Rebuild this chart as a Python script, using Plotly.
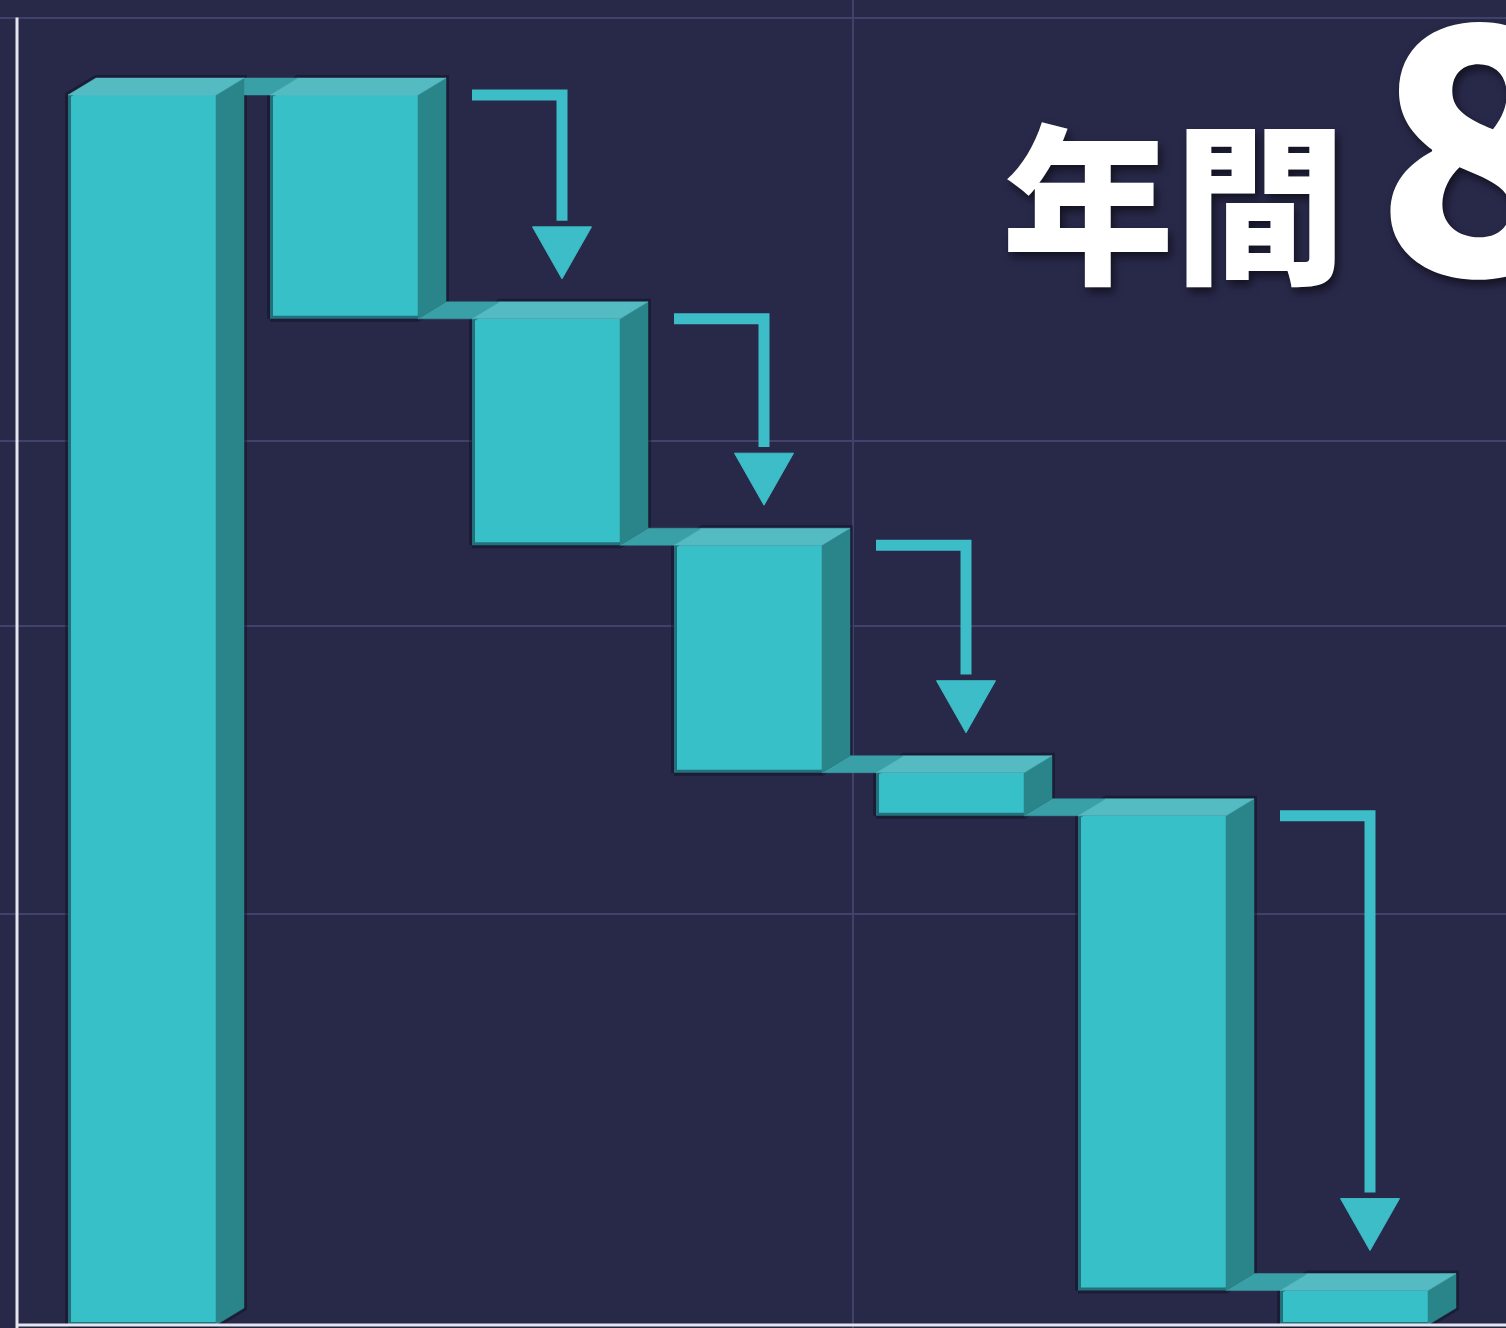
import plotly.graph_objects as go

# ---------------- data ----------------
categories = ["年間合計", "削減1", "削減2", "削減3", "削減4", "削減5", "残り"]
measures = ["absolute", "relative", "relative", "relative", "relative", "relative", "total"]
values = [100.0, -18.2, -18.4, -18.5, -3.5, -38.6, 0]
arrow_steps = [1, 2, 3, 5]          # steps whose drop is shown by an arrow in the next column
grid_levels = [33.4, 56.8, 71.9, 106.3]
grid_x = [3.52]
title_word = "年間"
title_number = "8"

# ---------------- style ----------------
W, H = 1506, 1328
BG = "#282849"
GRID = "#41416a"
FRONT = "#38c0c8"
SIDE = "#2a858b"
TOP = "#55bbc3"
CONN = "#3aa0a8"
ARROW = "#3cbdc7"
AXIS = "#e6e6ef"

X0_PX, X_STEP_PX = 142, 202          # pixel of category 0 centre, pixels per category
Y0_PX, Y_PX_PER_UNIT = 1325, 12.3    # pixel of value 0, pixels per value unit
x_range = [-X0_PX / X_STEP_PX, (W - X0_PX) / X_STEP_PX]
y_range = [(Y0_PX - H) / Y_PX_PER_UNIT, Y0_PX / Y_PX_PER_UNIT]

BAR_W = 148 / X_STEP_PX
DX = 28 / X_STEP_PX
DY = 17 / Y_PX_PER_UNIT
GAP = 40 / Y_PX_PER_UNIT
HEAD_H = 52 / Y_PX_PER_UNIT
HEAD_HW = 29.5 / X_STEP_PX
ARROW_DX = 16 / X_STEP_PX

# ---------------- derived geometry ----------------
xs = list(range(len(categories)))
bottoms, tops = [], []
level = 0.0
for m, v in zip(measures, values):
    if m == "absolute":
        b, t = 0.0, v
        level = v
    elif m == "relative":
        new = level + v
        b, t = min(level, new), max(level, new)
        level = new
    else:
        b, t = 0.0, level
    bottoms.append(b)
    tops.append(t)

xl = [x - BAR_W / 2 for x in xs]
xr = [x + BAR_W / 2 for x in xs]


def polys(list_of_pts):
    px, py = [], []
    for pts in list_of_pts:
        for (a, b) in pts + [pts[0]]:
            px.append(a)
            py.append(b)
        px.append(None)
        py.append(None)
    return px, py


# connectors (floor slabs between bars) at the level where the next bar starts
conn = []
for i in range(len(xs) - 1):
    L = tops[i + 1]
    conn.append([(xr[i], L), (xl[i + 1], L), (xl[i + 1] + DX, L + DY), (xr[i] + DX, L + DY)])

sides = [[(xr[i], bottoms[i]), (xr[i], tops[i]), (xr[i] + DX, tops[i] + DY), (xr[i] + DX, bottoms[i] + DY)]
         for i in xs]
topf = [[(xl[i], tops[i]), (xr[i], tops[i]), (xr[i] + DX, tops[i] + DY), (xl[i] + DX, tops[i] + DY)]
        for i in xs]
shadow = [[(xl[i], bottoms[i]), (xr[i], bottoms[i]), (xr[i] + DX, bottoms[i] + DY),
           (xr[i] + DX, tops[i] + DY), (xl[i] + DX, tops[i] + DY), (xl[i], tops[i])] for i in xs]

fig = go.Figure()

sx, sy = polys(shadow)
fig.add_trace(go.Scatter(x=sx, y=sy, mode="lines", fill="toself", fillcolor="rgba(0,0,0,0)",
                         line=dict(color="rgba(10,16,32,0.45)", width=6), hoverinfo="skip"))
cx, cy = polys(conn)
fig.add_trace(go.Scatter(x=cx, y=cy, mode="lines", fill="toself", fillcolor=CONN,
                         line=dict(color=CONN, width=0.5), hoverinfo="skip"))

fig.add_trace(go.Waterfall(
    x=xs, y=values, measure=measures, width=BAR_W,
    base=0,
    increasing=dict(marker=dict(color=FRONT, line=dict(width=0))),
    decreasing=dict(marker=dict(color=FRONT, line=dict(width=0))),
    totals=dict(marker=dict(color=FRONT, line=dict(width=0))),
    connector=dict(visible=False),
    hovertext=categories, hoverinfo="text+y",
))

sdx, sdy = polys(sides)
fig.add_trace(go.Scatter(x=sdx, y=sdy, mode="lines", fill="toself", fillcolor=SIDE,
                         line=dict(color=SIDE, width=0.5), hoverinfo="skip"))
tx, ty = polys(topf)
fig.add_trace(go.Scatter(x=tx, y=ty, mode="lines", fill="toself", fillcolor=TOP,
                         line=dict(color=TOP, width=0.5), hoverinfo="skip"))

# arrows
ax_line, ay_line, heads = [], [], []
for s in arrow_steps:
    col = s + 1
    xv = xs[col] + ARROW_DX
    tip = bottoms[s] + GAP
    head_top = tip + HEAD_H
    ax_line += [xl[col], xv, xv, None]
    ay_line += [tops[s], tops[s], head_top + 0.5, None]
    heads.append([(xv - HEAD_HW, head_top), (xv + HEAD_HW, head_top), (xv, tip)])
fig.add_trace(go.Scatter(x=ax_line, y=ay_line, mode="lines",
                         line=dict(color=ARROW, width=11), hoverinfo="skip"))
hx, hy = polys(heads)
fig.add_trace(go.Scatter(x=hx, y=hy, mode="lines", fill="toself", fillcolor=ARROW,
                         line=dict(color=ARROW, width=1), hoverinfo="skip"))

# axis lines
y_axis_x = x_range[0] + 17 / X_STEP_PX
fig.add_shape(type="line", xref="x", yref="y", x0=y_axis_x, x1=y_axis_x,
              y0=y_range[0], y1=grid_levels[-1], line=dict(color=AXIS, width=3), layer="above")
fig.add_shape(type="line", xref="x", yref="y", x0=y_axis_x, x1=x_range[1],
              y0=0, y1=0, line=dict(color=AXIS, width=3), layer="above")

fig.add_annotation(text=title_word, xref="paper", yref="paper", x=1000 / W, y=1 - 195 / H,
                   xanchor="left", yanchor="middle", showarrow=False,
                   font=dict(family="Noto Sans CJK JP", size=172, color="white", weight=900,
                             shadow="3px 5px 8px rgba(0,0,0,0.55)"))
fig.add_annotation(text=title_number, xref="paper", yref="paper", x=1372 / W, y=1 - 126 / H,
                   xanchor="left", yanchor="middle", showarrow=False,
                   font=dict(family="Noto Sans CJK JP", size=342, color="white", weight=900,
                             shadow="3px 5px 8px rgba(0,0,0,0.55)"))

fig.update_layout(
    width=W, height=H, margin=dict(l=0, r=0, t=0, b=0),
    paper_bgcolor=BG, plot_bgcolor=BG, showlegend=False,
    xaxis=dict(range=x_range, tickvals=grid_x, showticklabels=False, showgrid=True,
               gridcolor=GRID, gridwidth=1.5, zeroline=False, showline=False, ticks=""),
    yaxis=dict(range=y_range, tickvals=grid_levels, showticklabels=False, showgrid=True,
               gridcolor=GRID, gridwidth=2, zeroline=False, showline=False, ticks=""),
)

fig.write_html("out.html")
